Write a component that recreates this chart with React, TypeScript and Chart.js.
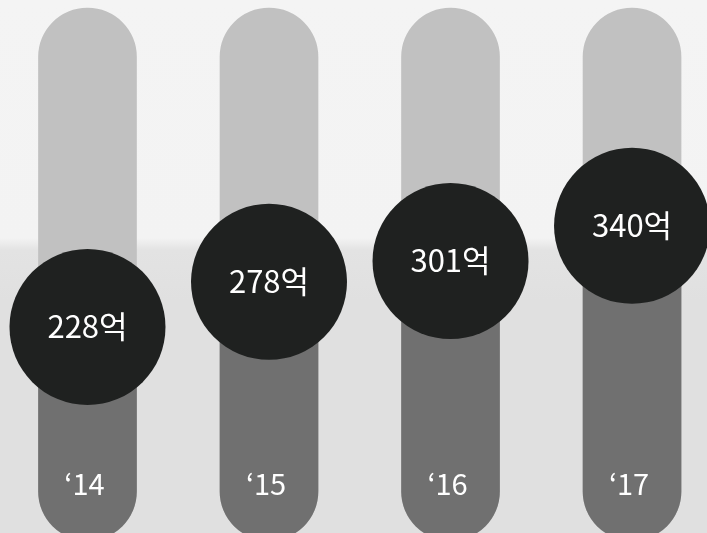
import React, { useEffect, useRef } from "react";
import { Chart, registerables } from "chart.js";

Chart.register(...registerables);

const categories = ["‘14", "‘15", "‘16", "‘17"];
const values = [228, 278, 301, 340];
const valueLabels = ["228억", "278억", "301억", "340억"];

const Y_MIN = 0;
const Y_MAX = 590;
const TRACK_LOW = -8;
const TRACK_HIGH = 581;

const labelPlugin = {
  id: "labelPlugin",
  afterDatasetsDraw(chart: any) {
    const { ctx, scales } = chart;
    const xs = scales.x;
    const ys = scales.y;
    ctx.save();
    ctx.fillStyle = "#ffffff";
    ctx.textAlign = "center";
    ctx.textBaseline = "middle";
    ctx.font = '400 31px "Noto Sans CJK KR", "Noto Sans", sans-serif';
    values.forEach((v, i) => {
      ctx.fillText(valueLabels[i], xs.getPixelForValue(i), ys.getPixelForValue(v) - 1);
    });
    ctx.font = '400 29px "Noto Sans CJK KR", "Noto Sans", sans-serif';
    categories.forEach((c, i) => {
      ctx.fillText(c, xs.getPixelForValue(i) - 3, 484);
    });
    ctx.restore();
  },
};

export default function App() {
  const ref = useRef<HTMLCanvasElement | null>(null);
  useEffect(() => {
    document.body.style.margin = "0";
    const chart = new Chart(ref.current!, {
      type: "bar",
      data: {
        datasets: [
          {
            type: "line",
            data: values.map((v, i) => ({ x: i, y: v })),
            showLine: false,
            pointRadius: 78,
            pointHoverRadius: 78,
            pointBackgroundColor: "#1f2120",
            pointBorderWidth: 0,
            borderWidth: 0,
            order: 0,
            clip: false,
          } as any,
          {
            type: "bar",
            data: values.map((v, i) => ({ x: i, y: [TRACK_LOW, v] })),
            backgroundColor: "#707070",
            barThickness: 98,
            grouped: false,
            borderSkipped: false,
            borderRadius: { topLeft: 0, topRight: 0, bottomLeft: 49, bottomRight: 49 },
            order: 1,
            clip: false,
          } as any,
          {
            type: "bar",
            data: values.map((v, i) => ({ x: i, y: [TRACK_LOW, TRACK_HIGH] })),
            backgroundColor: "#c1c1c1",
            barThickness: 98,
            grouped: false,
            borderSkipped: false,
            borderRadius: 49,
            order: 2,
            clip: false,
          } as any,
        ],
      },
      options: {
        animation: false,
        responsive: false,
        maintainAspectRatio: false,
        layout: { padding: 0, autoPadding: false },
        plugins: { legend: { display: false }, tooltip: { enabled: false } },
        events: [],
        scales: {
          x: {
            type: "linear",
            min: -0.482,
            max: 3.413,
            offset: false,
            display: false,
          },
          y: {
            type: "linear",
            min: Y_MIN,
            max: Y_MAX,
            display: false,
          },
        },
      },
      plugins: [labelPlugin],
    });
    return () => chart.destroy();
  }, []);
  return (
    <div
      style={{
        width: 707,
        height: 533,
        background:
          "linear-gradient(to bottom, #f4f4f4 0px, #f3f3f3 238px, #e3e3e3 250px, #e0e0e0 300px, #e0e0e0 533px)",
      }}
    >
      <canvas ref={ref} width={707} height={533} style={{ display: "block" }} />
    </div>
  );
}
